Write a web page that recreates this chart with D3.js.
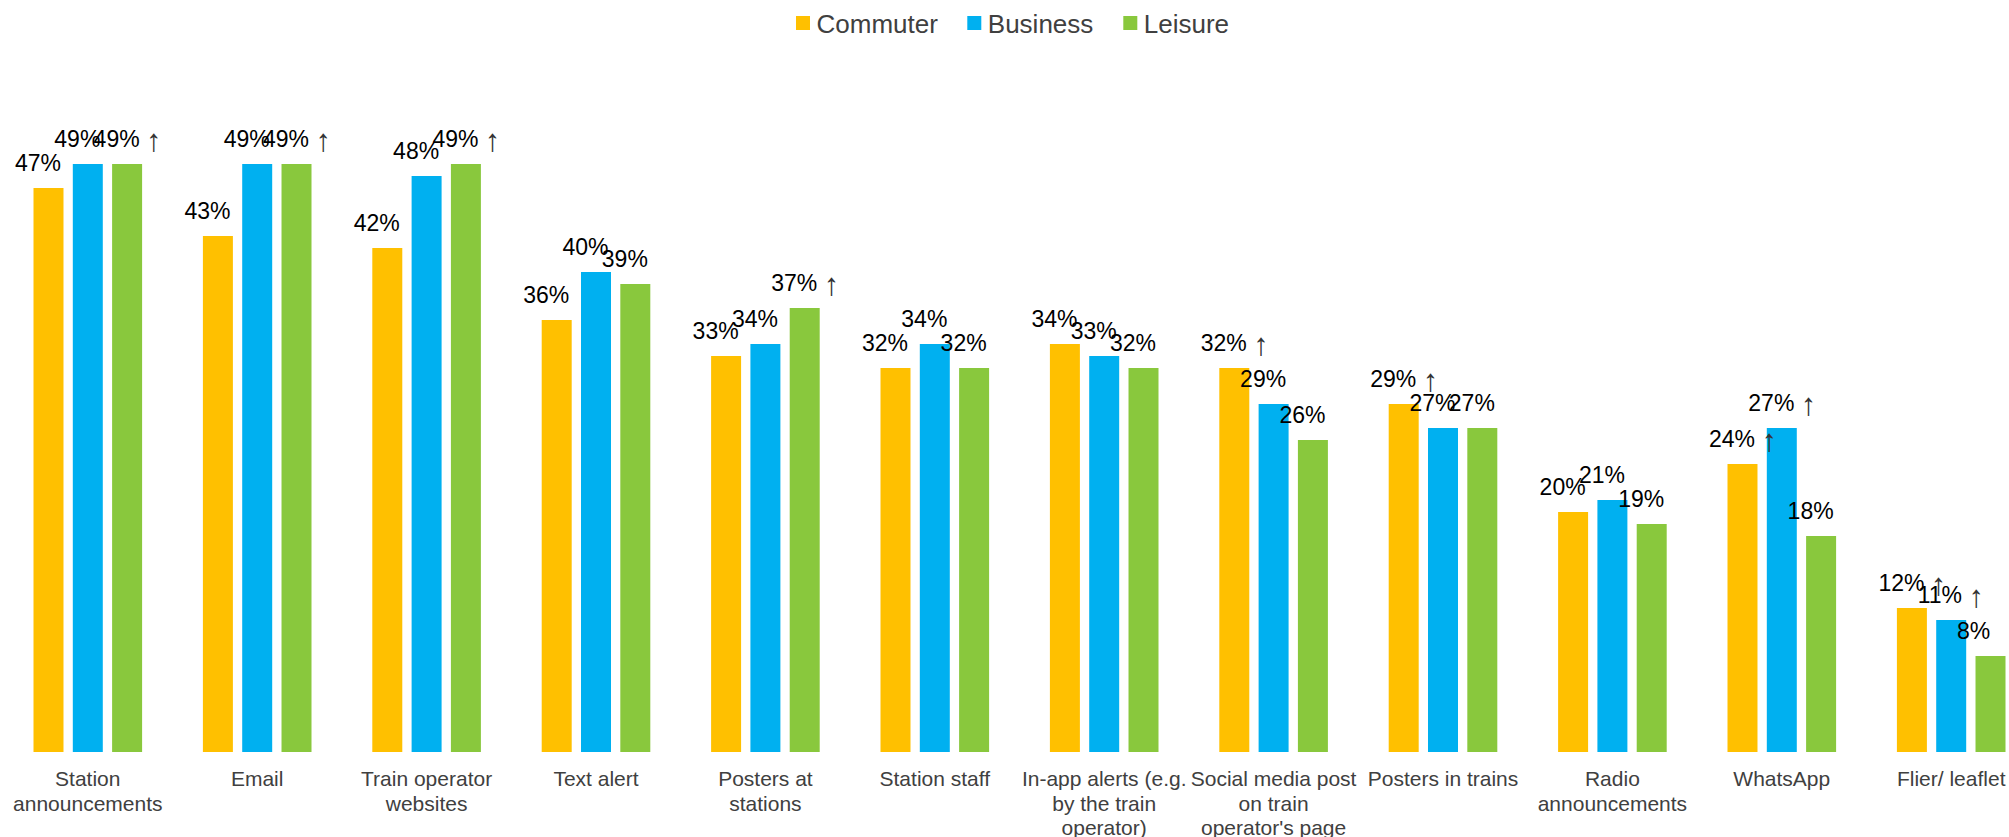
<!DOCTYPE html>
<html>
<head>
<meta charset="utf-8">
<script src="https://cdn.jsdelivr.net/npm/d3@7"></script>
<style>
  html, body { margin: 0; padding: 0; background: #ffffff; }
  svg { display: block; font-family: "Liberation Sans", Arial, sans-serif; }
</style>
</head>
<body>
<svg id="chart" width="2009" height="837"></svg>
<script>
// Channels used to hear about disruption, by traveller type (% of respondents)
const categories = [
  ["Station", "announcements"],
  ["Email"],
  ["Train operator", "websites"],
  ["Text alert"],
  ["Posters at", "stations"],
  ["Station staff"],
  ["In-app alerts (e.g.", "by the train", "operator)"],
  ["Social media post", "on train", "operator's page"],
  ["Posters in trains"],
  ["Radio", "announcements"],
  ["WhatsApp"],
  ["Flier/ leaflet"]
];
const seriesNames = ["Commuter", "Business", "Leisure"];
const commuter = [47, 43, 42, 36, 33, 32, 34, 32, 29, 20, 24, 12];
const business = [49, 49, 48, 40, 34, 34, 33, 29, 27, 21, 27, 11];
const leisure  = [49, 49, 49, 39, 37, 32, 32, 26, 27, 19, 18, 8];
// significantly higher than other traveller types
const commuterUp = [false, false, false, false, false, false, false, true, true, false, true, true];
const businessUp = [false, false, false, false, false, false, false, false, false, false, true, true];
const leisureUp  = [true, true, true, false, true, false, false, false, false, false, false, false];
const colors = ["#FFC000", "#00B0F0", "#89C83D"];

const seriesValues = [commuter, business, leisure];
const seriesUp = [commuterUp, businessUp, leisureUp];
const catKeys = categories.map(c => c.join(" "));

const svg = d3.select("#chart");
svg.append("rect").attr("width", 2009).attr("height", 837).attr("fill", "#ffffff");

const baseY = 752;
const y = d3.scaleLinear().domain([0, 50]).range([baseY, baseY - 50 * 12.0]);

const x0 = d3.scaleBand().domain(catKeys).range([3.1, 3.1 + 12 * 169.4]).padding(0);
const x1 = d3.scaleBand().domain(seriesNames).range([-54.3, 54.3]).paddingInner(0.237).paddingOuter(0);

const rows = [];
catKeys.forEach((k, i) => {
  seriesNames.forEach((s, j) => {
    rows.push({ cat: k, series: s, idx: j, value: seriesValues[j][i], up: seriesUp[j][i] });
  });
});

const groupCenter = k => x0(k) + x0.bandwidth() / 2;

// bars
svg.append("g").selectAll("rect").data(rows).join("rect")
  .attr("x", d => groupCenter(d.cat) + x1(d.series))
  .attr("y", d => y(d.value))
  .attr("width", x1.bandwidth())
  .attr("height", d => y(0) - y(d.value))
  .attr("fill", d => colors[d.idx]);

// value labels
const lbl = svg.append("g").selectAll("text").data(rows).join("text")
  .attr("x", d => groupCenter(d.cat) + x1(d.series) + x1.bandwidth() / 2 - 33.5)
  .attr("y", d => y(d.value) - 17)
  .attr("font-size", 23)
  .attr("fill", "#000000");
lbl.append("tspan").text(d => d.value + "%");
lbl.filter(d => d.up).append("tspan").text(" ");
lbl.filter(d => d.up).append("tspan")
  .attr("font-size", 31)
  .attr("dy", 4)
  .attr("fill", "#333333")
  .text("\u2191");

// category labels
const catG = svg.append("g").selectAll("text").data(categories).join("text")
  .attr("x", (d, i) => groupCenter(catKeys[i]))
  .attr("y", 786)
  .attr("text-anchor", "middle")
  .attr("font-size", 21)
  .attr("fill", "#404040");
catG.each(function(lines) {
  const t = d3.select(this);
  lines.forEach((ln, li) => {
    t.append("tspan").attr("x", t.attr("x")).attr("dy", li === 0 ? 0 : 24.5).text(ln);
  });
});

// legend
const legendX = [796, 967.3, 1123.3];
const leg = svg.append("g").selectAll("g").data(seriesNames).join("g")
  .attr("transform", (d, i) => `translate(${legendX[i]},0)`);
leg.append("rect").attr("x", 0).attr("y", 16).attr("width", 14).attr("height", 14)
  .attr("fill", (d, i) => colors[i]);
leg.append("text").attr("x", 20.5).attr("y", 32.5).attr("font-size", 26)
  .attr("fill", "#404040").text(d => d);
</script>
</body>
</html>
